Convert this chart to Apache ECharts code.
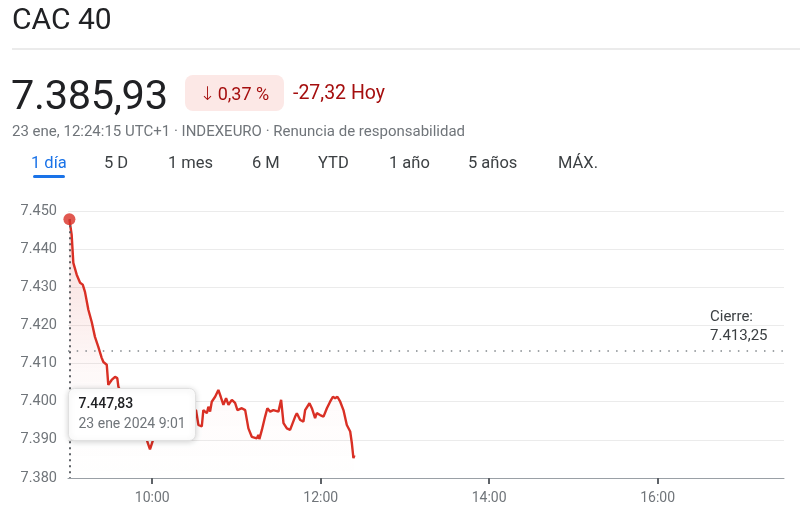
<!DOCTYPE html>
<html>
<head>
<meta charset="utf-8">
<script src="https://cdn.jsdelivr.net/npm/echarts@6/dist/echarts.min.js"></script>
<style>
  html,body{margin:0;padding:0;background:#fff;}
  body{width:800px;height:516px;position:relative;overflow:hidden;font-family:Roboto,"Noto Sans",Arial,sans-serif;}
  #chart{position:absolute;left:0;top:0;width:800px;height:516px;}
  .abs{position:absolute;white-space:nowrap;}
  #title{left:12px;top:1px;font-size:30px;color:#202124;line-height:36px;}
  #sep{left:12px;top:48px;width:788px;height:2px;background:#ebebeb;}
  #price{left:11px;top:70px;font-size:41.5px;color:#202124;line-height:50px;letter-spacing:-0.3px;}
  #pill{left:185px;top:75px;width:99px;height:36px;background:#fce8e6;border-radius:8px;color:#a50e0e;font-size:18px;line-height:36px;text-align:center;}
  #pill .ar{font-size:19px;margin-right:2px;font-family:"DejaVu Sans",sans-serif;font-weight:300;}
  #chg{left:293px;top:75px;font-size:19.5px;line-height:36px;color:#a50e0e;}
  #sub{left:12px;top:121px;font-size:15px;color:#70757a;line-height:20px;}
  .tab{top:152px;font-size:16.5px;color:#3c4043;line-height:22px;font-weight:400;}
  .tab.on{color:#1a73e8;}
  #ul{left:33px;top:175px;width:32px;height:3px;background:#1a73e8;border-radius:2px;}
</style>
</head>
<body>
<div id="chart"></div>
<div id="hdr"></div>
<script>
// ---- data ----
// time in minutes since midnight (9:00 = 540)
var times = [541,542.6,543.8,546.2,548.6,550.5,552.1,554.5,556.9,559.2,561.6,564,565.2,567.6,568.7,571.1,573.5,575.1,575.9,
  580.6,586.3,591.3,595.6,598.4,600.6,605.6,612.7,619.8,627,
  631.2,632.9,635.3,636.4,638.9,640,641.2,642.4,644.8,647.1,648.8,650.7,652.6,654.3,656.7,659,660.7,663.8,666.2,668.5,670.9,674.5,675.6,676.3,
  678.1,680.4,682,684,686.3,689.9,691.8,693.5,695.9,698.2,699.4,701.8,703,705.4,707.7,708.9,712,713.7,716,717.2,719.6,722,724.4,726.7,728.7,730.3,731.9,733.9,736.2,738.6,741,742.2,743.3,744];
var values = [7447.83,7443.8,7436.4,7433.3,7431.2,7430.7,7428.8,7424.1,7420.9,7417,7414.4,7411.5,7410.4,7409.7,7404.4,7405.7,7406.5,7406.2,7403.9,
  7400,7397,7394,7390.5,7387.5,7390,7393,7395,7396.5,7397.5,
  7397.8,7393.9,7393.5,7397.8,7397,7398.7,7397.4,7400,7401.3,7403.1,7401.3,7399.2,7400.9,7399.2,7400.5,7399.7,7397.8,7398.3,7397.8,7393,7390.8,7390.4,7391.3,7390.2,
  7392.6,7396.1,7398.3,7397.4,7397.8,7397.4,7400.5,7394.4,7393,7392.6,7392.2,7396.1,7397,7395.2,7394.8,7397.8,7399.6,7398.3,7395.7,7397,7396.5,7396.1,7398.3,7400,7401.3,7400.9,7401.3,7400,7397.8,7393.9,7392.2,7389.1,7385.2,7385.93];
var xTickValues = [600, 720, 840, 960];
var yMin = 7380, yMax = 7450, yStep = 10;
var xMin = 540, xMax = 1050;
var previousClose = 7413.25;
var firstPoint = [541, 7447.83];
var tooltipValue = '7.447,83';
var tooltipDate = '23 ene 2024 9:01';
var tabLabels = ['1 día','5 D','1 mes','6 M','YTD','1 año','5 años','MÁX.'];
var tabX = [31,104,168,252,318,389,468,558];

// ---- header ----
var hdr = document.getElementById('hdr');
var html = '<div class="abs" id="title">CAC 40</div><div class="abs" id="sep"></div>' +
  '<div class="abs" id="price">7.385,93</div><div class="abs" id="pill"><span class="ar">↓</span>0,37 %</div>' +
  '<div class="abs" id="chg">-27,32 Hoy</div>' +
  '<div class="abs" id="sub">23 ene, 12:24:15 UTC+1 · INDEXEURO · Renuncia de responsabilidad</div>';
tabLabels.forEach(function(t,i){
  html += '<div class="abs tab' + (i===0?' on':'') + '" style="left:' + tabX[i] + 'px">' + t + '</div>';
});
html += '<div class="abs" id="ul"></div>';
hdr.innerHTML = html;

function fmtNum(v, dec){
  var s = v.toFixed(dec);
  var parts = s.split('.');
  var ip = parts[0].replace(/\B(?=(\d{3})+(?!\d))/g, '.');
  return parts.length > 1 ? ip + ',' + parts[1] : ip;
}
function fmtTime(m){
  var h = Math.floor(m/60), mm = Math.round(m%60);
  return h + ':' + (mm<10?'0':'') + mm;
}

var lineData = times.map(function(t,i){ return [t, values[i]]; });

var chart = echarts.init(document.getElementById('chart'), null, {renderer:'canvas'});
chart.setOption({
  animation:false,
  grid:{left:68, right:16, top:211, bottom:38},
  xAxis:{
    type:'value', min:xMin, max:xMax,
    axisLine:{show:true, lineStyle:{color:'#9aa0a6', width:1}},
    axisTick:{show:true, customValues:xTickValues, length:6, lineStyle:{color:'#5f6368', width:2}},
    axisLabel:{customValues:xTickValues, formatter:function(v){return fmtTime(v);}, color:'#70757a', fontSize:14, fontFamily:'Roboto', margin:13},
    splitLine:{show:false}
  },
  yAxis:{
    type:'value', min:yMin, max:yMax, interval:yStep,
    axisLine:{show:false}, axisTick:{show:false},
    axisLabel:{formatter:function(v){return fmtNum(v,0);}, color:'#70757a', fontSize:14.5, fontFamily:'Roboto', margin:11},
    splitLine:{lineStyle:{color:'#ebebeb', width:1}}
  },
  series:[
    {
      type:'line', data:lineData, showSymbol:false, symbol:'none',
      lineStyle:{color:'#d93025', width:2.4},
      areaStyle:{color:new echarts.graphic.LinearGradient(0,0,0,1,[
        {offset:0,color:'rgba(217,48,37,0.25)'},
        {offset:0.6,color:'rgba(217,48,37,0.04)'},
        {offset:1,color:'rgba(217,48,37,0)'}])},
      markLine:{
        silent:true, symbol:'none',
        data:[
          {yAxis:previousClose, lineStyle:{color:'#80868b', width:1.5, type:[1.5,7.2]},
           label:{show:true, position:'insideEndTop', distance:[14,5],
             formatter:'{a|Cierre:}\n{a|' + fmtNum(previousClose,2) + '}',
             rich:{a:{width:60, align:'left', color:'#3c4043', fontSize:15, fontFamily:'Roboto', lineHeight:19}}}},
          [{coord:[firstPoint[0], firstPoint[1]], lineStyle:{color:'#5f6368', width:2, type:[2,4]}, label:{show:false}},
           {coord:[firstPoint[0], yMin]}]
        ]
      },
      z:3
    },
    {
      type:'scatter', data:[firstPoint], symbolSize:12,
      itemStyle:{color:'#d93025'}, z:5, silent:true
    }
  ],
  graphic:[
    {type:'group', left:68, top:388, z:100, children:[
      {type:'rect', z:100, shape:{x:0,y:0,width:127,height:52,r:6},
       style:{fill:'#ffffff', stroke:'#e0e0e0', lineWidth:1, shadowBlur:6, shadowColor:'rgba(0,0,0,0.18)', shadowOffsetY:1}},
      {type:'text', z:101, x:10, y:9, style:{text:tooltipValue, fill:'#202124', font:'500 14px Roboto'}},
      {type:'text', z:101, x:10, y:29, style:{text:tooltipDate, fill:'#70757a', font:'14px Roboto'}}
    ]}
  ]
});
</script>
</body>
</html>
